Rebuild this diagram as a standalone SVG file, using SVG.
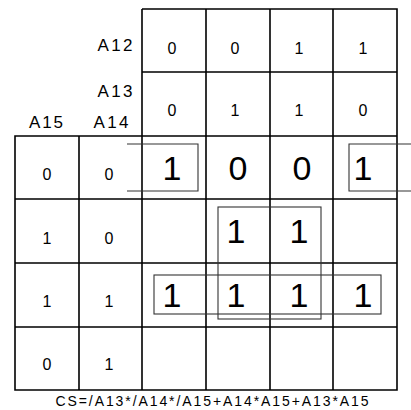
<svg xmlns="http://www.w3.org/2000/svg" width="411" height="410" viewBox="0 0 411 410">
<style>
.g{fill:none;stroke:#000;stroke-width:1.6}
.l{fill:none;stroke:#333;stroke-width:1.1}
text{font-family:"Liberation Sans","DejaVu Sans",sans-serif;fill:#000;text-anchor:middle}
.s{font-size:16px}
.b{font-size:34px}
.h{font-size:17px}
</style>
<rect width="411" height="410" fill="#fff"/>
<g id="grid">
<path class="g" d="M142,9H397V390H15V136H397M142,9V390M206,9V390M270,9V390M333,9V390M79,136V390M142,72H397M15,199H397M15,263H397M15,327H397"/>
</g>
<g id="labels">
<text class="h" x="115" y="51" textLength="35" lengthAdjust="spacing">A12</text>
<text class="h" x="115" y="97" textLength="35" lengthAdjust="spacing">A13</text>
<text class="h" x="46" y="128" textLength="34" lengthAdjust="spacing">A15</text>
<text class="h" x="111" y="128" textLength="35" lengthAdjust="spacing">A14</text>
</g>
<g id="header">
<text class="s" x="172" y="54">0</text>
<text class="s" x="235" y="54">0</text>
<text class="s" x="299" y="54">1</text>
<text class="s" x="363" y="54">1</text>
<text class="s" x="172" y="116">0</text>
<text class="s" x="235" y="116">1</text>
<text class="s" x="299" y="116">1</text>
<text class="s" x="363" y="116">0</text>
<text class="s" x="47" y="180">0</text>
<text class="s" x="109" y="180">0</text>
<text class="s" x="47" y="244">1</text>
<text class="s" x="109" y="244">0</text>
<text class="s" x="47" y="307">1</text>
<text class="s" x="109" y="307">1</text>
<text class="s" x="47" y="370">0</text>
<text class="s" x="109" y="370">1</text>
</g>
<g id="cells">
<text class="b" x="172" y="180">1</text>
<text class="b" x="238" y="180">0</text>
<text class="b" x="302" y="180">0</text>
<text class="b" x="363" y="180">1</text>
<text class="b" x="236" y="243">1</text>
<text class="b" x="299" y="243">1</text>
<text class="b" x="172" y="307">1</text>
<text class="b" x="236" y="307">1</text>
<text class="b" x="299" y="307">1</text>
<text class="b" x="363" y="307">1</text>
</g>
<g id="loops">
<path class="l" d="M127,144H198V191H127"/>
<path class="l" d="M411,144H349V191H411"/>
<rect class="l" x="218" y="207" width="103" height="112"/>
<rect class="l" x="154" y="275" width="227" height="39"/>
</g>
<text x="212" y="406" font-size="14" textLength="313" lengthAdjust="spacing">CS=/A13*/A14*/A15+A14*A15+A13*A15</text>
</svg>
